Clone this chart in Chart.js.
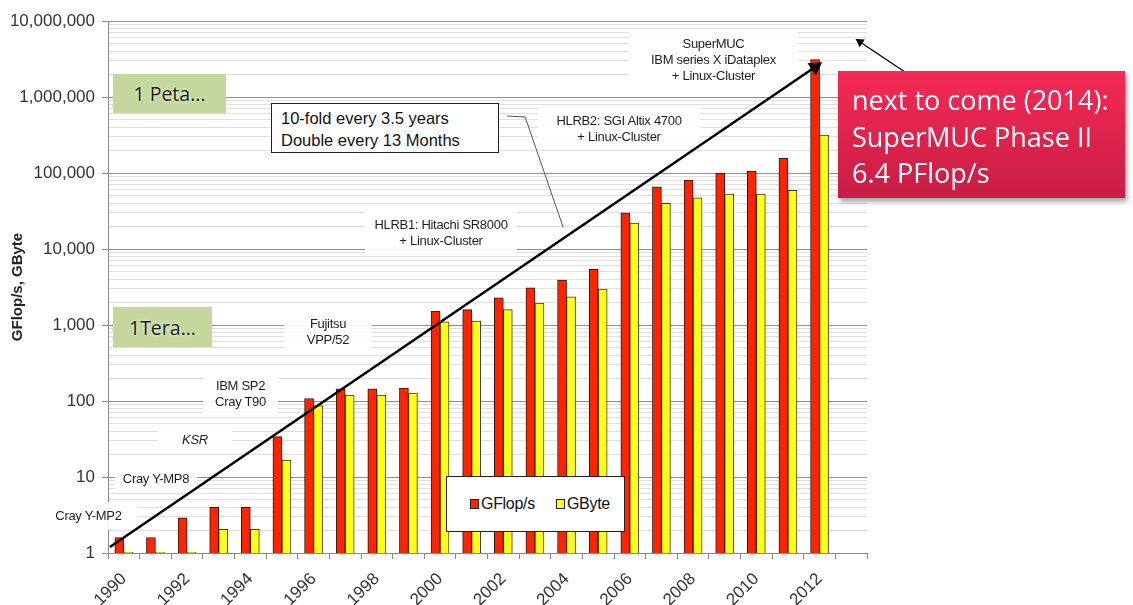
<!DOCTYPE html>
<html>
<head>
<meta charset="utf-8">
<script src="https://cdn.jsdelivr.net/npm/chart.js@4.4.1/dist/chart.umd.min.js"></script>
<style>
    body { margin: 0; background: #fff; }
    #wrap { position: relative; width: 1133px; height: 605px; overflow: hidden; }
    #chart { position: absolute; left: 0; top: 0; }
    .note {
        position: absolute;
        font-family: "Liberation Sans", Arial, sans-serif;
        font-size: 13px;
        letter-spacing: -0.3px;
        color: #1e1e1e;
        text-align: center;
        line-height: 16px;
        display: flex;
        flex-direction: column;
        justify-content: center;
    }
    .green {
        position: absolute;
        background: #c4d79c;
        font-family: "Open Sans", sans-serif;
        font-size: 19.5px;
        color: #1a1a1a;
        text-shadow: 0 0 3px #fff;
        display: flex;
        align-items: center;
        justify-content: center;
    }
    #trendBox {
        position: absolute;
        left: 271px; top: 103px; width: 228px; height: 50px;
        border: 1px solid #222;
        background: #fff;
        font-family: "Liberation Sans", Arial, sans-serif;
        font-size: 16.5px;
        line-height: 22px;
        color: #111;
        padding-left: 9px;
        box-sizing: border-box;
        padding-top: 3px;
    }
    #legend {
        position: absolute;
        left: 446px; top: 476px; width: 179px; height: 56px;
        border: 1px solid #222;
        background: #fff;
        box-sizing: border-box;
        font-family: "Liberation Sans", Arial, sans-serif;
        font-size: 16px;
        letter-spacing: -0.3px;
        color: #111;
        display: flex;
        align-items: center;
        padding-left: 23px;
        white-space: nowrap;
    }
    #legend span.sw {
        display: inline-block; width: 7px; height: 8px;
        border: 1px solid #222; margin-right: 2px; vertical-align: 0px;
    }
    #legend .item { margin-right: 21px; white-space: nowrap; }
    #callout {
        position: absolute;
        left: 838px; top: 71px; width: 287px; height: 127px;
        background: linear-gradient(#f52a55, #c81d45);
        box-shadow: 2px 4px 5px rgba(0, 0, 0, 0.35);
        font-family: "Open Sans", sans-serif;
        font-size: 27px;
        line-height: 36.5px;
        color: #fff;
        padding: 11px 0 0 14px;
        box-sizing: border-box;
        white-space: nowrap;
    }
</style>
</head>
<body>
<div id="wrap">
    <canvas id="chart" width="1133" height="605"></canvas>

    <div class="green" style="left:113px; top:74px; width:113px; height:39px;">1 Peta...</div>
    <div class="green" style="left:113px; top:307px; width:99px; height:40px;">1Tera...</div>

    <div class="note" style="left:40px; top:502px; width:97px; height:28px;">Cray Y-MP2</div>
    <div class="note" style="left:115px; top:468px; width:82px; height:22px;">Cray Y-MP8</div>
    <div class="note" style="left:158px; top:427px; width:74px; height:25px; font-style:italic;">KSR</div>
    <div class="note" style="left:203px; top:373px; width:75px; height:42px;">IBM SP2<br>Cray T90</div>
    <div class="note" style="left:284px; top:311px; width:88px; height:42px;">Fujitsu<br>VPP/52</div>
    <div class="note" style="left:365px; top:212px; width:152px; height:41px;">HLRB1: Hitachi SR8000<br>+ Linux-Cluster</div>
    <div class="note" style="left:538px; top:108px; width:162px; height:42px;">HLRB2: SGI Altix 4700<br>+ Linux-Cluster</div>
    <div class="note" style="left:629px; top:32px; width:169px; height:55px;">SuperMUC<br>IBM series X iDataplex<br>+ Linux-Cluster</div>

    <div id="trendBox">10-fold every 3.5 years<br>Double every 13 Months</div>
    <div id="legend"></div>
    <div id="callout">next to come (2014):<br>SuperMUC Phase II<br>6.4 PFlop/s</div>
</div>

<script>
// categories
var years = ['1990', '1991', '1992', '1993', '1994', '1995', '1996', '1997', '1998', '1999', '2000', '2001',
             '2002', '2003', '2004', '2005', '2006', '2007', '2008', '2009', '2010', '2011', '2012', '2013'];

// series
var gflops = [1.6, 1.6, 2.9, 4.0, 4.0, 34, 108, 145, 145, 148, 1520, 1590,
              2270, 3080, 3910, 5400, 30000, 66000, 81000, 100000, 106000, 157000, 3100000, null];
var gbyte = [1.02, 1.02, 1.02, 2.05, 2.05, 16.7, 87, 120, 120, 127, 1100, 1130,
             1590, 1950, 2340, 2960, 21900, 40000, 47000, 53000, 53000, 59000, 316000, null];

// trend arrow, leader and the "next to come" arrow (year, value)
var trendLine = [{x: 1989.56, y: 1.2}, {x: 2011.86, y: 2480000}];
var leaderLine = [{x: 2002.12, y: 562000}, {x: 2002.69, y: 546000}, {x: 2003.89, y: 19500}];
var nextArrow = [{x: 2014.70, y: 2130000}, {x: 2013.28, y: 5300000}];

// y axis ticks
var majorTicks = [1, 10, 100, 1000, 10000, 100000, 1000000, 10000000];
var majorLabels = ['1', '10', '100', '1,000', '10,000', '100,000', '1,000,000', '10,000,000'];
var minorSteps = [2, 3, 4, 5, 6, 7, 8, 9];

var yTicks = [];
majorTicks.forEach(function(m, i) {
    yTicks.push(m);
    if (i < majorTicks.length - 1) {
        minorSteps.forEach(function(s) { yTicks.push(m * s); });
    }
});

function isMajor(v) {
    return majorTicks.indexOf(v) !== -1;
}

// white backings for the machine notes: under the trend line, over the grid
var noteBacking = {
    id: 'noteBacking',
    beforeDatasetsDraw: function(chart) {
        var c = chart.ctx;
        c.save();
        c.fillStyle = 'rgba(255,255,255,0.92)';
        document.querySelectorAll('.note').forEach(function(el) {
            c.fillRect(el.offsetLeft, el.offsetTop, el.offsetWidth, el.offsetHeight);
        });
        c.restore();
    }
};

Chart.defaults.font.family = '"Liberation Sans", Arial, sans-serif';
Chart.defaults.color = '#333';

var ctx = document.getElementById('chart').getContext('2d');
var chart = new Chart(ctx, {
    data: {
        labels: years,
        datasets: [{
            type: 'line',
            label: 'trend',
            data: trendLine,
            xAxisID: 'x2',
            borderColor: '#000',
            borderWidth: 2.5,
            pointRadius: [0, 6],
            pointStyle: 'triangle',
            rotation: [0, 55.7],
            pointBackgroundColor: '#000',
            pointBorderColor: '#000',
            order: 0
        }, {
            type: 'line',
            label: 'leader',
            data: leaderLine,
            xAxisID: 'x2',
            borderColor: '#555',
            borderWidth: 1,
            pointRadius: 0,
            tension: 0,
            order: 0
        }, {
            type: 'line',
            label: 'next',
            data: nextArrow,
            xAxisID: 'x2',
            borderColor: '#000',
            borderWidth: 1.3,
            pointRadius: [0, 4],
            pointStyle: 'triangle',
            rotation: [0, -56.3],
            pointBackgroundColor: '#000',
            pointBorderColor: '#000',
            clip: false,
            order: 0
        }, {
            type: 'bar',
            label: 'GFlop/s',
            data: gflops,
            backgroundColor: '#ff2400',
            borderColor: '#2a1a12',
            borderWidth: 1,
            barThickness: 9,
            order: 2
        }, {
            type: 'bar',
            label: 'GByte',
            data: gbyte,
            backgroundColor: '#ffff1a',
            borderColor: '#3a3a22',
            borderWidth: 1,
            barThickness: 9,
            order: 2
        }]
    },
    options: {
        responsive: false,
        animation: false,
        layout: {
            padding: {left: 0, top: 21, right: 266, bottom: 0}
        },
        plugins: {
            legend: {display: false},
            tooltip: {enabled: false}
        },
        scales: {
            x: {
                type: 'category',
                offset: true,
                grid: {
                    display: true,
                    drawOnChartArea: false,
                    drawTicks: true,
                    tickLength: 6,
                    offset: true,
                    color: '#8a8a8a'
                },
                border: {color: '#8a8a8a'},
                ticks: {
                    autoSkip: false,
                    maxRotation: 45,
                    minRotation: 45,
                    padding: 10,
                    font: {size: 17},
                    color: '#333',
                    callback: function(v, i) {
                        return i % 2 === 0 ? years[i] : '';
                    }
                },
                afterFit: function(scale) { scale.height = 52; }
            },
            x2: {
                type: 'linear',
                min: 1989.5,
                max: 2013.5,
                display: false
            },
            y: {
                type: 'logarithmic',
                min: 1,
                max: 10000000,
                afterBuildTicks: function(scale) {
                    scale.ticks = yTicks.map(function(v) { return {value: v, major: isMajor(v)}; });
                },
                grid: {
                    color: function(c) {
                        return c.tick && isMajor(c.tick.value) ? '#8f8f8f' : '#e0e0e0';
                    },
                    tickColor: function(c) {
                        return c.tick && isMajor(c.tick.value) ? '#8f8f8f' : 'rgba(0,0,0,0)';
                    },
                    tickLength: 6
                },
                border: {color: '#8a8a8a'},
                ticks: {
                    autoSkip: false,
                    padding: 7,
                    font: {size: 17},
                    color: '#333',
                    callback: function(v) {
                        var i = majorTicks.indexOf(v);
                        return i === -1 ? '' : majorLabels[i];
                    }
                },
                title: {
                    display: true,
                    text: 'GFlop/s, GByte',
                    font: {size: 15, weight: 'bold'},
                    color: '#222',
                    padding: {top: 9, bottom: 0}
                },
                afterFit: function(scale) { scale.width = 108; }
            }
        }
    },
    plugins: [noteBacking]
});

// legend from the bar datasets
var legendBox = document.getElementById('legend');
chart.data.datasets.forEach(function(ds) {
    if (ds.type !== 'bar') return;
    var item = document.createElement('span');
    item.className = 'item';
    var sw = document.createElement('span');
    sw.className = 'sw';
    sw.style.background = ds.backgroundColor;
    item.appendChild(sw);
    item.appendChild(document.createTextNode(ds.label));
    legendBox.appendChild(item);
});
</script>
</body>
</html>
